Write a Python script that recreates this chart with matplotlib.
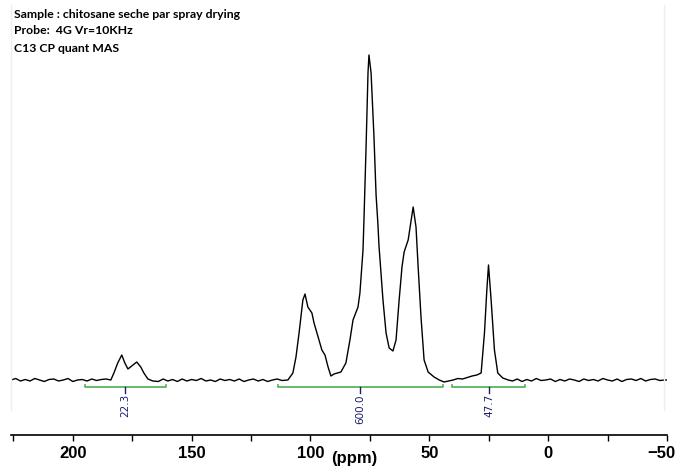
import numpy as np
import matplotlib.pyplot as plt
from matplotlib.ticker import MultipleLocator
from matplotlib.transforms import ScaledTranslation

# spectrum trace (ppm, intensity in arbitrary units)
ppm = [226, 224, 222, 220, 218, 216, 214, 212, 210, 208, 206, 204, 202, 200, 198,
       196, 194, 192, 190, 188, 186,
       184.0, 182.7, 181.1, 179.4, 178.1, 176.8, 174.7, 173.1, 171.4, 170.1, 168.4, 166.3,
       164, 162, 160, 158, 156, 154, 152, 150, 148, 146, 144, 142, 140, 138, 136, 134,
       132, 130, 128, 126, 124, 122, 120, 118, 116, 114, 112,
       109.5, 107.4, 106.1, 104.8, 103.2, 102.3, 101.1, 99.4, 98.5, 96.8, 95.2, 93.9,
       92.6, 91.4, 90.1, 87.2, 85.1, 83.4, 82.1, 80.0, 79.2, 77.9, 77.5, 76.6, 75.8,
       75.4, 74.5, 73.3, 72.4, 71.6, 71.2, 69.5, 68.2, 66.9, 65.3, 64.0, 62.7, 61.5,
       60.6, 58.9, 56.8, 55.6, 54.7, 53.5, 52.2, 50.5, 48.0, 45.8, 43.8,
       42, 40, 38, 36, 34, 32, 30,
       28.2, 26.8, 25.8, 25.1, 24.0, 22.6, 21.2, 19.1, 16.8,
       15, 13, 11, 9, 7, 5, 3, 1, -1, -3, -5, -7, -9, -11, -13, -15, -17, -19, -21,
       -23, -25, -27, -29, -31, -33, -35, -37, -39, -41, -43, -45, -47, -49, -50]
intensity = [0, 1.5, -1, 0.5, -1, 1.5, 0, -1.5, 0.5, 1, -1, 0, 1.5, -1.5, 0,
             0.5, -1, 1, -0.5, 0.5, 1,
             0, 7, 17, 25, 17, 11, 15, 18, 13, 7, 1, -1,
             -1.5, 1, -1, 0.5, -1.5, 1, -1, 0.5, -0.5, 1.5, -1, 0, -1.5, 1, -0.5, 0.5,
             -1, 1, -1.5, 0, 1, -1, 0.5, -1.5, 0, 1, -0.5,
             0, 7, 23, 47, 80, 86, 73, 67, 57, 43, 30, 25,
             13, 4, 6, 8, 17, 40, 60, 73, 87, 130, 160, 234, 307,
             325, 307, 244, 185, 155, 135, 80, 47, 32, 29, 40, 80, 113,
             128, 140, 173, 153, 113, 63, 20, 8, 3, 0, -2,
             -1, 0, 1.5, 1, 2.5, 4, 5,
             7, 47, 90, 115, 80, 30, 7, 2, 0,
             -1, 1, -1.5, 0.5, -1, 1.5, -0.5, 0, 1, -1.5, 0.5, -1, 1, 0, -1.5, 1, -0.5, 0.5, -1,
             1.5, 0, -1, 1, -1.5, 0.5, 1, -0.5, 1.5, -1, 0.5, 1, -0.5, 0, 0]

# integral regions (start ppm, end ppm, marker ppm, label)
int_start = [194.9, 113.7, 40.4]
int_end = [160.8, 44.2, 9.7]
int_mark = [178.1, 79.2, 24.8]
int_labels = ['22.3', '600.0', '47.7']

header = ['Sample : chitosane seche par spray drying',
          'Probe:  4G Vr=10KHz',
          'C13 CP quant MAS']

fig = plt.figure(figsize=(6.76, 4.68), dpi=100)
ax = fig.add_axes([11 / 676, 33 / 468, 656 / 676, 435 / 468])

ax.plot(ppm, intensity, color='black', lw=1.0)

green = '#4caf50'
navy = '#1c1c70'
for s, e, m, lab in zip(int_start, int_end, int_mark, int_labels):
    ax.plot([s, s, e, e], [-5, -7, -7, -5], color=green, lw=1.2)
    ax.plot([m, m], [-7, -13], color=navy, lw=1.0)
    ax.text(m, -14, lab, rotation=90, ha='center', va='top',
            fontsize=7.5, color=navy, family='DejaVu Sans')

ax.set_xlim(226, -50)
ax.set_ylim(-55, 380)
for sp in ['top', 'right', 'left']:
    ax.spines[sp].set_visible(False)
ax.spines['bottom'].set_linewidth(1.2)
ax.set_yticks([])
ax.xaxis.set_major_locator(MultipleLocator(50))
ax.xaxis.set_minor_locator(MultipleLocator(25))
ax.tick_params(axis='x', which='both', direction='out', length=4, width=1, pad=4)
fig.canvas.draw()
for lbl in ax.get_xticklabels():
    lbl.set_fontweight('bold')
    lbl.set_fontsize(12)
    lbl.set_family(['Liberation Sans', 'DejaVu Sans'])
    if lbl.get_text() in ('\u221250', '-50'):
        # keep the last label inside the figure
        lbl.set_transform(lbl.get_transform() + ScaledTranslation(-4 / 72, 0, fig.dpi_scale_trans))

# faint frame lines at the sides
fig.add_artist(plt.Line2D([11 / 676, 11 / 676], [58 / 468, 463 / 468], color='#eeeeee', lw=1))
fig.add_artist(plt.Line2D([664 / 676, 664 / 676], [58 / 468, 463 / 468], color='#eeeeee', lw=1))

fig.text(354 / 676, 1 - 459 / 468, '(ppm)', ha='center', va='center', fontsize=12,
         fontweight='bold', family=['Liberation Sans', 'DejaVu Sans'])

for i, line in enumerate(header):
    fig.text(14 / 676, 1 - (14 + 17 * i) / 468, line, ha='left', va='center',
             fontsize=8.8, fontweight='bold', family=['Lato', 'DejaVu Sans'])

fig.savefig('out.png', dpi=100)
